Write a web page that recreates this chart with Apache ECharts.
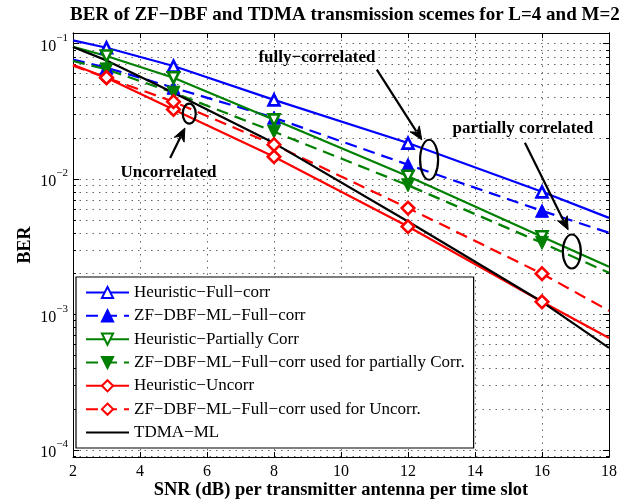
<!DOCTYPE html>
<html><head><meta charset="utf-8">
<script src="https://cdn.jsdelivr.net/npm/echarts@6/dist/echarts.min.js"></script>
<style>html,body{margin:0;padding:0;background:#fff}#c{width:631px;height:501px}</style>
</head><body><div id="c"></div>
<script>
// ---- data (BER values) ----
const snr = [2, 3, 5, 8, 12, 16, 18];
const markerSnr = [3, 5, 8, 12, 16];
const heurFull = [0.1058, 0.0934, 0.0684, 0.0385, 0.01845, 0.00805, 0.00517];
const zfFull   = [0.0765, 0.0665, 0.0473, 0.0284, 0.01277, 0.00583, 0.00401];
const heurPart = [0.095, 0.0811, 0.0561, 0.0274, 0.0105, 0.00375, 0.00225];
const zfPart   = [0.0745, 0.0646, 0.0435, 0.0224, 0.0090, 0.00338, 0.00203];
const heurUnc  = [0.070, 0.0561, 0.0327, 0.01462, 0.00446, 0.00124, 0.000671];
const zfUnc    = [0.0688, 0.0561, 0.0373, 0.01795, 0.00611, 0.0020, 0.001064];
const tdma     = [0.0945, 0.0753, 0.0435, 0.01845, 0.00486, 0.00124, 0.000566];
const xTicks = [2, 4, 6, 8, 10, 12, 14, 16, 18];
const yDecades = [-4, -3, -2, -1];
const yLimits = [0.885e-4, 0.12];
const names = [
  'Heuristic\u2212Full\u2212corr',
  'ZF\u2212DBF\u2212ML\u2212Full\u2212corr',
  'Heuristic\u2212Partially Corr',
  'ZF\u2212DBF\u2212ML\u2212Full\u2212corr used for partially Corr.',
  'Heuristic\u2212Uncorr',
  'ZF\u2212DBF\u2212ML\u2212Full\u2212corr used for Uncorr.',
  'TDMA\u2212ML'
];
const titleText = 'BER of ZF\u2212DBF and TDMA transmission scemes for L=4 and M=2';
const xName = 'SNR (dB) per transmitter antenna per time slot';
const yName = 'BER';
// annotations in data coordinates [snr, log10(BER)]
const notes = [
  {text: 'fully\u2212correlated', at: [9.28, -1.103], from: [11.07, -1.192], to: [12.41, -1.71], ell: [12.63, -1.857], rx: 9, ry: 20},
  {text: 'partially correlated', at: [15.43, -1.628], from: [15.49, -1.732], to: [16.78, -2.375], ell: [16.89, -2.535], rx: 9, ry: 17},
  {text: 'Uncorrelated', at: [4.85, -1.951], from: [4.90, -1.845], to: [5.34, -1.623], ell: [5.47, -1.517], rx: 6.5, ry: 10}
];

const SERIF = '"Liberation Serif", "DejaVu Serif", serif';
const yMin = Math.log10(yLimits[0]), yMax = Math.log10(yLimits[1]);
const minorVals = [];
for (let n = -5; n <= 0; n++) for (let k = 1; k <= 9; k++) {
  const v = Math.log10(k * Math.pow(10, n));
  if (v >= yMin && v <= yMax) minorVals.push(v);
}

function mk(name, vals, color, dashed, symbol, rotate, hollow) {
  const size = symbol === 'diamond' ? 12.5 : (hollow ? 11 : 13);
  const s = {
    name, type: 'line', xAxisIndex: 0, yAxisIndex: 0,
    data: snr.map((x, i) => ({value: [x, Math.log10(vals[i])], symbol: markerSnr.includes(x) ? symbol : 'none'})),
    symbol, symbolRotate: rotate, symbolSize: size,
    showAllSymbol: true,
    lineStyle: {color, width: 2.2, type: dashed ? [12, 7] : 'solid'},
    itemStyle: hollow ? {color: '#fff', borderColor: color, borderWidth: 2.6} : {color, borderColor: color, borderWidth: 1},
    emphasis: {disabled: true}, silent: true, clip: false
  };
  if (symbol === 'none') { s.symbol = 'circle'; s.itemStyle = {color, opacity: 0}; }
  return s;
}
const series = [
  mk(names[0], heurFull, '#0000ff', false, 'triangle', 0, true),
  mk(names[1], zfFull, '#0000ff', true, 'triangle', 0, false),
  mk(names[2], heurPart, '#008000', false, 'triangle', 180, true),
  mk(names[3], zfPart, '#008000', true, 'triangle', 180, false),
  mk(names[4], heurUnc, '#ff0000', false, 'diamond', 0, true),
  mk(names[5], zfUnc, '#ff0000', true, 'diamond', 0, true),
  mk(names[6], tdma, '#000000', false, 'none', 0, false)
];

const axLine = {show: true, lineStyle: {color: '#000', width: 1}};
const dotted = {show: true, lineStyle: {color: '#666', width: 1, type: [1.5, 5]}};
const chart = echarts.init(document.getElementById('c'), null, {renderer: 'canvas'});
chart.setOption({
  animation: false,
  backgroundColor: '#fff',
  title: {text: titleText, left: 70, top: 6, padding: 0,
    textStyle: {fontFamily: SERIF, fontWeight: 'bold', fontSize: 19, color: '#000'}},
  grid: {left: 73, right: 22, top: 33, bottom: 44, containLabel: false, outerBoundsMode: 'none'},
  xAxis: [
    {type: 'value', position: 'bottom', min: 2, max: 18, interval: 2,
      axisLine: axLine, axisTick: {inside: true, length: 5, lineStyle: {color: '#000'}},
      axisLabel: {margin: 7, fontFamily: SERIF, fontSize: 16, color: '#000', customValues: xTicks},
      splitLine: dotted,
      name: xName, nameLocation: 'middle', nameGap: 24, nameMoveOverlap: false,
      nameTextStyle: {fontFamily: SERIF, fontWeight: 'bold', fontSize: 18.5, color: '#000'}},
    {type: 'value', position: 'top', min: 2, max: 18, interval: 2,
      axisLine: axLine, axisTick: {inside: true, length: 5, lineStyle: {color: '#000'}},
      axisLabel: {show: false}, splitLine: {show: false}}
  ],
  yAxis: [
    {type: 'value', position: 'left', min: yMin, max: yMax,
      axisLine: axLine,
      axisTick: {inside: true, length: 6, customValues: yDecades, lineStyle: {color: '#000'}},
      axisLabel: {customValues: yDecades, margin: 5, color: '#000',
        formatter: v => '{b|10}{s|' + (Math.round(v) < 0 ? '\u2212' + (-Math.round(v)) : Math.round(v)) + '}',
        rich: {b: {fontFamily: SERIF, fontSize: 16, lineHeight: 22, verticalAlign: 'bottom', color: '#000'},
               s: {fontFamily: SERIF, fontSize: 11, lineHeight: 22, verticalAlign: 'top', color: '#000'}}},
      splitLine: {show: false},
      name: yName, nameLocation: 'middle', nameGap: 39, nameRotate: 90, nameMoveOverlap: false,
      nameTextStyle: {fontFamily: SERIF, fontWeight: 'bold', fontSize: 18, color: '#000'}},
    {type: 'value', position: 'right', min: yMin, max: yMax,
      axisLine: axLine,
      axisTick: {inside: true, length: 6, customValues: yDecades, lineStyle: {color: '#000'}},
      axisLabel: {show: false}, splitLine: {show: false}},
    {type: 'value', position: 'left', min: yMin, max: yMax,
      axisLine: axLine,
      axisTick: {inside: true, length: 3, customValues: minorVals, lineStyle: {color: '#000'}},
      axisLabel: {show: false}, splitLine: dotted},
    {type: 'value', position: 'right', min: yMin, max: yMax,
      axisLine: axLine,
      axisTick: {inside: true, length: 3, customValues: minorVals, lineStyle: {color: '#000'}},
      axisLabel: {show: false}, splitLine: {show: false}}
  ],
  legend: {
    orient: 'vertical', left: 76, top: 277,
    padding: [7, 9, 7, 9], itemGap: 6.33, itemWidth: 43, itemHeight: 14,
    backgroundColor: '#fff', borderColor: '#000', borderWidth: 1.2, borderRadius: 0,
    textStyle: {fontFamily: SERIF, fontSize: 17, lineHeight: 17, color: '#000'},
    selectedMode: false, inactiveColor: '#000',
    data: names.map((n, i) => i === 6 ? {name: n, itemStyle: {opacity: 0}} : n)
  },
  series
});

// annotations placed through the chart's own coordinate system
const g = [];
notes.forEach(n => {
  const t = chart.convertToPixel({xAxisIndex: 0, yAxisIndex: 0}, n.at);
  const a = chart.convertToPixel({xAxisIndex: 0, yAxisIndex: 0}, n.from);
  const b = chart.convertToPixel({xAxisIndex: 0, yAxisIndex: 0}, n.to);
  const e = chart.convertToPixel({xAxisIndex: 0, yAxisIndex: 0}, n.ell);
  g.push({type: 'text', z: 100, style: {text: n.text, x: t[0], y: t[1], align: 'center', verticalAlign: 'middle',
    font: 'bold 17px ' + SERIF, fill: '#000'}});
  const dx = b[0] - a[0], dy = b[1] - a[1], L = Math.hypot(dx, dy), ux = dx / L, uy = dy / L;
  const hl = 13, hw = 5.5;
  const bx = b[0] - ux * hl, by = b[1] - uy * hl;
  g.push({type: 'line', z: 100, shape: {x1: a[0], y1: a[1], x2: bx + ux * 3, y2: by + uy * 3}, style: {stroke: '#000', lineWidth: 2.2}});
  g.push({type: 'polygon', z: 100, shape: {points: [[b[0], b[1]], [bx - uy * hw, by + ux * hw], [bx + ux * 4, by + uy * 4], [bx + uy * hw, by - ux * hw]]},
    style: {fill: '#000', stroke: '#000', lineWidth: 1}});
  g.push({type: 'ellipse', z: 100, shape: {cx: e[0], cy: e[1], rx: n.rx, ry: n.ry}, style: {fill: 'none', stroke: '#000', lineWidth: 2.2}});
});
chart.setOption({graphic: g});
</script>
</body></html>
